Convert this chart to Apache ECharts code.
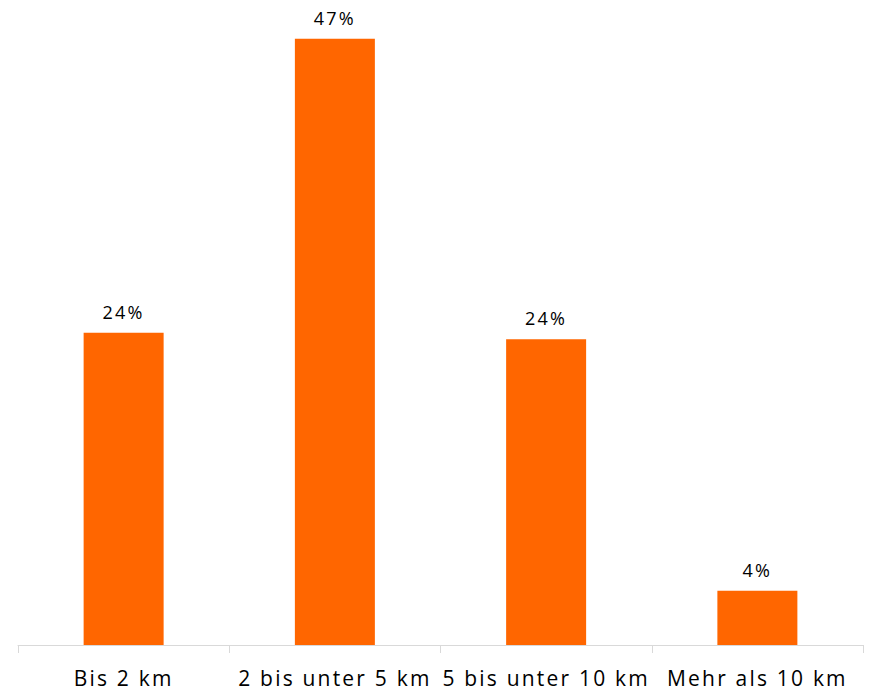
<!DOCTYPE html>
<html><head><meta charset="utf-8">
<script src="https://cdn.jsdelivr.net/npm/echarts@6/dist/echarts.min.js"></script>
<style>html,body{margin:0;padding:0;background:#fff}#c{width:869px;height:691px}
#c svg text{letter-spacing:2.2px}</style>
</head><body><div id="c"></div>
<script>
const categories = ["Bis 2 km", "2 bis unter 5 km", "5 bis unter 10 km", "Mehr als 10 km"];
const values = [24.2, 47.0, 23.7, 4.2];
const chart = echarts.init(document.getElementById('c'), null, {renderer: 'svg'});
chart.setOption({
  animation: false,
  grid: {left: 18, right: 6, top: 0, bottom: 46, containLabel: false},
  xAxis: {
    type: 'category', data: categories,
    axisLine: {lineStyle: {color: '#d9d9d9', width: 1}},
    axisTick: {show: true, length: 8, lineStyle: {color: '#d9d9d9'}},
    axisLabel: {color: '#000', fontSize: 21, fontFamily: 'Open Sans', margin: 22, interval: 0}
  },
  yAxis: {type: 'value', min: 0, max: 50, show: false, splitLine: {show: false}},
  series: [{
    type: 'bar', data: values, barWidth: 80,
    itemStyle: {color: '#ff6600'},
    label: {show: true, position: 'top', distance: 12, color: '#000', fontSize: 18, fontFamily: 'Open Sans',
      formatter: p => Math.round(p.value) + '%'}
  }]
});
</script></body></html>
